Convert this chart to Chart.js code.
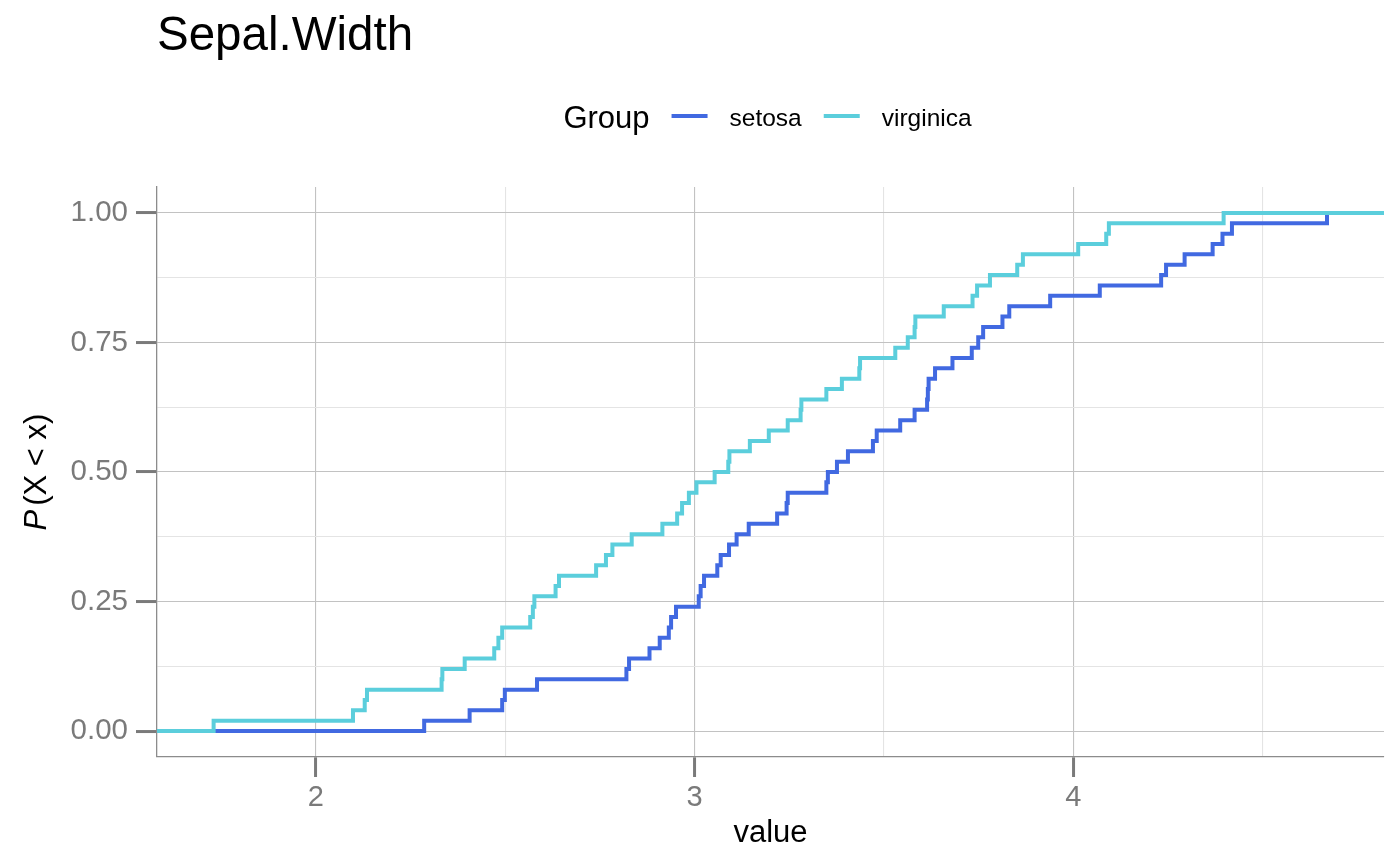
<!DOCTYPE html>
<html lang="en">
<head>
<meta charset="UTF-8" />
<title>Sepal.Width</title>
<script src="https://cdn.jsdelivr.net/npm/chart.js"></script>
<style>
  html, body { margin: 0; padding: 0; background: #fff; }
  #wrap { width: 1400px; height: 866px; }
</style>
</head>
<body>
<div id="wrap"><canvas id="ecdfChart" width="1400" height="866"></canvas></div>
<script>
const setosaValues = [
  2.286, 2.406, 2.492, 2.499, 2.584, 2.820, 2.827, 2.881, 2.908, 2.932,
  2.938, 2.951, 3.011, 3.016, 3.025, 3.060, 3.069, 3.091, 3.111, 3.143,
  3.218, 3.243, 3.246, 3.348, 3.352, 3.376, 3.405, 3.471, 3.481, 3.543,
  3.581, 3.614, 3.616, 3.618, 3.635, 3.681, 3.732, 3.749, 3.762, 3.813,
  3.831, 3.939, 4.070, 4.232, 4.245, 4.294, 4.368, 4.394, 4.419, 4.670
];
const virginicaValues = [
  1.730, 2.098, 2.129, 2.135, 2.332, 2.334, 2.393, 2.471, 2.482, 2.492,
  2.566, 2.573, 2.577, 2.633, 2.642, 2.740, 2.766, 2.783, 2.834, 2.915,
  2.954, 2.967, 2.985, 3.005, 3.053, 3.089, 3.092, 3.146, 3.196, 3.246,
  3.280, 3.282, 3.348, 3.389, 3.435, 3.437, 3.530, 3.563, 3.581, 3.583,
  3.658, 3.734, 3.746, 3.780, 3.852, 3.867, 4.013, 4.087, 4.094, 4.397
];
const groupNames = ['setosa', 'virginica'];
const groupColors = { setosa: '#4169E1', virginica: '#5BCEDC' };

const xMajorTicks = [2, 3, 4];
const xMinorTicks = [2.5, 3.5, 4.5];
const yMajorTicks = [0, 0.25, 0.5, 0.75, 1];
const yMinorTicks = [0.125, 0.375, 0.625, 0.875];
const xLimits = [1.5805, 4.8205];
const yLimits = [-0.05, 1.05];

const plotTitle = 'Sepal.Width';
const legendTitle = 'Group';
const xTitle = 'value';

const fontFamily = '"Liberation Sans", Arial, sans-serif';

// empirical CDF, padded out to both ends of the axis like stat_ecdf
function ecdfPoints(values) {
  const sorted = values.slice().sort((a, b) => a - b);
  const n = sorted.length;
  const pts = [{ x: xLimits[0], y: 0 }];
  sorted.forEach((v, i) => pts.push({ x: v, y: (i + 1) / n }));
  pts.push({ x: xLimits[1], y: 1 });
  return pts;
}

function tickList(major, minor) {
  return major.concat(minor).sort((a, b) => a - b).map(v => ({ value: v }));
}

const majorGrid = '#c2c2c2';
const minorGrid = '#e4e4e4';
const tickGrey = '#7a7a7a';

const textLayer = {
  id: 'textLayer',
  afterDraw(chart) {
    const ctx = chart.ctx;
    const area = chart.chartArea;
    const midX = (area.left + area.right) / 2;
    ctx.save();
    ctx.fillStyle = '#000';
    ctx.textBaseline = 'alphabetic';

    // title
    ctx.textAlign = 'left';
    ctx.font = '47.5px ' + fontFamily;
    ctx.fillText(plotTitle, 157, 50);

    // legend, centred over the panel
    const titleFont = '31px ' + fontFamily;
    const labelFont = '24.5px ' + fontFamily;
    const keyLen = 36, gap = 22;
    ctx.font = titleFont;
    const titleW = ctx.measureText(legendTitle).width;
    ctx.font = labelFont;
    const labelW = groupNames.map(g => ctx.measureText(g).width);
    let total = titleW;
    groupNames.forEach((g, i) => { total += gap + keyLen + gap + labelW[i]; });
    let x = midX - total / 2 - 3;
    ctx.font = titleFont;
    ctx.fillText(legendTitle, x, 128);
    x += titleW;
    groupNames.forEach((g, i) => {
      x += gap;
      ctx.strokeStyle = groupColors[g];
      ctx.lineWidth = 4;
      ctx.beginPath();
      ctx.moveTo(x, 116);
      ctx.lineTo(x + keyLen, 116);
      ctx.stroke();
      x += keyLen + gap;
      ctx.font = labelFont;
      ctx.fillText(g, x, 126);
      x += labelW[i];
    });

    // x axis title
    ctx.textAlign = 'center';
    ctx.font = '31px ' + fontFamily;
    ctx.fillText(xTitle, midX, 842);

    // y axis title: italic P followed by (X < x)
    const italicFont = 'italic 31px ' + fontFamily;
    const plainFont = '31px ' + fontFamily;
    const rest = '(X < x)';
    ctx.font = italicFont;
    const pW = ctx.measureText('P').width + 4;
    ctx.font = plainFont;
    const restW = ctx.measureText(rest).width;
    ctx.translate(46, (area.top + area.bottom) / 2);
    ctx.rotate(-Math.PI / 2);
    ctx.textAlign = 'left';
    const start = -(pW + restW) / 2;
    ctx.font = italicFont;
    ctx.fillText('P', start, 0);
    ctx.font = plainFont;
    ctx.fillText(rest, start + pW, 0);
    ctx.restore();
  }
};

new Chart(document.getElementById('ecdfChart'), {
  type: 'line',
  data: {
    datasets: [
      { label: 'virginica', data: ecdfPoints(virginicaValues), borderColor: groupColors.virginica, order: 0 },
      { label: 'setosa', data: ecdfPoints(setosaValues), borderColor: groupColors.setosa, order: 1 }
    ]
  },
  options: {
    responsive: false,
    animation: false,
    layout: { padding: { top: 187, right: 16, left: 0, bottom: 0 } },
    elements: {
      line: { borderWidth: 4, stepped: 'before', tension: 0, fill: false },
      point: { radius: 0, hoverRadius: 0 }
    },
    plugins: {
      legend: { display: false },
      title: { display: false },
      tooltip: { enabled: false }
    },
    scales: {
      x: {
        type: 'linear',
        min: xLimits[0],
        max: xLimits[1],
        afterFit(scale) { scale.height = 109; },
        afterBuildTicks(scale) { scale.ticks = tickList(xMajorTicks, xMinorTicks); },
        ticks: {
          autoSkip: false,
          maxRotation: 0,
          padding: 4,
          color: tickGrey,
          font: { family: fontFamily, size: 29 },
          callback: v => xMajorTicks.includes(v) ? String(v) : ''
        },
        grid: {
          color: c => xMajorTicks.includes(c.tick.value) ? majorGrid : minorGrid,
          lineWidth: 1.1,
          tickLength: 20,
          tickWidth: 3,
          tickColor: c => xMajorTicks.includes(c.tick.value) ? tickGrey : 'rgba(0,0,0,0)'
        },
        border: { display: true, color: '#8c8c8c', width: 1.3 }
      },
      y: {
        type: 'linear',
        min: yLimits[0],
        max: yLimits[1],
        afterFit(scale) { scale.width = 157; },
        afterBuildTicks(scale) { scale.ticks = tickList(yMajorTicks, yMinorTicks); },
        ticks: {
          autoSkip: false,
          padding: 8,
          color: tickGrey,
          font: { family: fontFamily, size: 29.5 },
          callback: v => yMajorTicks.includes(v) ? v.toFixed(2) : ''
        },
        grid: {
          color: c => yMajorTicks.includes(c.tick.value) ? majorGrid : minorGrid,
          lineWidth: 1.1,
          tickLength: 21,
          tickWidth: 3,
          tickColor: c => yMajorTicks.includes(c.tick.value) ? tickGrey : 'rgba(0,0,0,0)'
        },
        border: { display: true, color: '#8c8c8c', width: 1.3 }
      }
    }
  },
  plugins: [textLayer]
});
</script>
</body>
</html>
